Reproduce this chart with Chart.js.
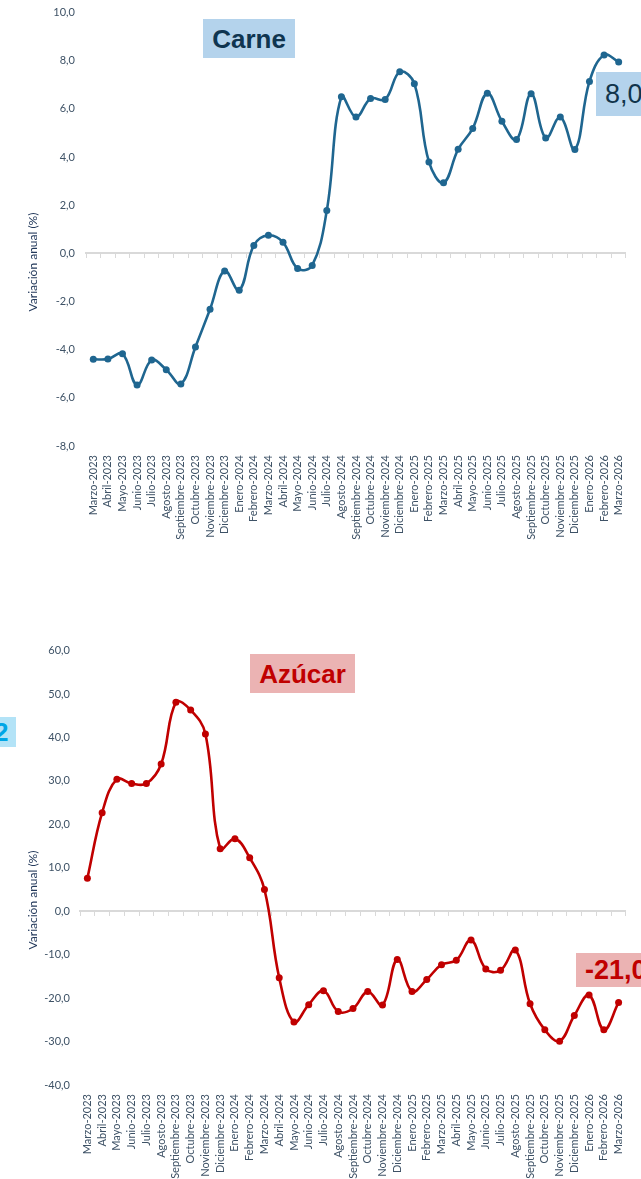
<!DOCTYPE html>
<html>
<head>
<meta charset="utf-8">
<script src="https://cdn.jsdelivr.net/npm/chart.js@4/dist/chart.umd.min.js"></script>
<style>
  html, body { margin: 0; padding: 0; background: #fff; }
  body { width: 641px; height: 1179px; position: relative; overflow: hidden; }
  .box { position: absolute; }
  .tag { position: absolute; font-family: 'Liberation Sans', Arial, sans-serif; font-weight: bold; font-size: 26px; white-space: nowrap; overflow: hidden; }
  .ytitle { position: absolute; width: 200px; height: 16px; line-height: 16px; text-align: center;
            font-family: Lato, sans-serif; font-size: 12px; color: #23395B; transform: rotate(-90deg); }
</style>
</head>
<body>
<div class="box" style="left:0;top:-5px;width:641px;height:625px;"><canvas id="carneChart"></canvas></div>
<div class="box" style="left:0;top:634px;width:641px;height:545px;"><canvas id="azucarChart"></canvas></div>

<div class="ytitle" style="left:-67px;top:254px;">Variación anual (%)</div>
<div class="ytitle" style="left:-67px;top:892px;">Variación anual (%)</div>

<div class="tag" style="left:203px;top:19px;width:92px;height:39px;line-height:40px;text-align:center;background:#B4D3EC;color:#0F3550;">Carne</div>
<div class="tag" style="left:596px;top:72px;width:60px;height:44px;line-height:45px;padding-left:9px;background:#B4D3EC;color:#10344B;font-weight:normal;font-size:27px;">8,0</div>
<div class="tag" style="left:250px;top:654px;width:105px;height:39px;line-height:40px;text-align:center;background:#EBB3B3;color:#C00000;">Azúcar</div>
<div class="tag" style="left:576px;top:953px;width:70px;height:34px;line-height:35px;padding-left:9px;background:#EBB3B3;color:#C00000;font-size:27px;">-21,0</div>
<div class="tag" style="left:0;top:717px;width:16px;height:30px;line-height:31px;background:#B3E3F7;color:#00A6E6;"><span style="position:relative;left:-6px;">2</span></div>

<script>
const months = [
  'Marzo-2023', 'Abril-2023', 'Mayo-2023', 'Junio-2023', 'Julio-2023', 'Agosto-2023',
  'Septiembre-2023', 'Octubre-2023', 'Noviembre-2023', 'Diciembre-2023', 'Enero-2024',
  'Febrero-2024', 'Marzo-2024', 'Abril-2024', 'Mayo-2024', 'Junio-2024', 'Julio-2024',
  'Agosto-2024', 'Septiembre-2024', 'Octubre-2024', 'Noviembre-2024', 'Diciembre-2024',
  'Enero-2025', 'Febrero-2025', 'Marzo-2025', 'Abril-2025', 'Mayo-2025', 'Junio-2025',
  'Julio-2025', 'Agosto-2025', 'Septiembre-2025', 'Octubre-2025', 'Noviembre-2025',
  'Diciembre-2025', 'Enero-2026', 'Febrero-2026', 'Marzo-2026'
];

const carne = [
  -4.40, -4.39, -4.17, -5.47, -4.43, -4.83, -5.42, -3.89, -2.32, -0.73, -1.53, 0.33, 0.75,
  0.46, -0.63, -0.50, 1.78, 6.50, 5.66, 6.43, 6.39, 7.54, 7.05, 3.80, 2.93, 4.32, 5.19,
  6.65, 5.49, 4.73, 6.63, 4.79, 5.66, 4.31, 7.14, 8.24, 7.95
];

const azucar = [
  7.6, 22.7, 30.4, 29.4, 29.4, 33.9, 48.1, 46.3, 40.8, 14.4, 16.7, 12.3, 5.0,
  -15.3, -25.5, -21.5, -18.3, -23.1, -22.4, -18.5, -21.6, -11.1, -18.5, -15.7, -12.3,
  -11.3, -6.6, -13.3, -13.6, -8.9, -21.3, -27.3, -29.9, -24.0, -19.3, -27.3, -21.0
];

// y tick ranges: [min, max, step]
const carneTicks = [-8, 10, 2];
const azucarTicks = [-40, 60, 10];

Chart.defaults.font.family = 'Lato';

function buildChart(id, values, ticks, color, box) {
    const ctx = document.getElementById(id).getContext('2d');
    return new Chart(ctx, {
        type: 'line',
        data: {
            labels: months,
            datasets: [{
                data: values,
                xAxisID: 'x',
                borderColor: color,
                backgroundColor: color,
                borderWidth: 2.6,
                pointRadius: 3.5,
                pointBorderWidth: 0,
                pointBackgroundColor: color,
                tension: 0.4
            }]
        },
        options: {
            responsive: true,
            maintainAspectRatio: false,
            animation: false,
            layout: { padding: { top: box.top, right: box.right, left: 0, bottom: 0 } },
            plugins: { legend: { display: false }, tooltip: { enabled: false } },
            scales: {
                y: {
                    min: ticks[0], max: ticks[1],
                    afterFit: s => { s.width = box.left; },
                    grid: { display: false, drawTicks: false },
                    border: { display: false },
                    ticks: {
                        stepSize: ticks[2],
                        padding: box.tickPad,
                        color: '#3E5266',
                        font: { size: 11 },
                        callback: v => v.toFixed(1).replace('.', ',')
                    }
                },
                x: {
                    type: 'category',
                    position: { y: 0 },
                    offset: true,
                    ticks: { display: false },
                    grid: { offset: true, drawOnChartArea: false, drawTicks: true, tickLength: 4, color: '#D9D9D9', lineWidth: 1 },
                    border: { color: '#D9D9D9', width: 2 }
                },
                x2: {
                    type: 'category',
                    labels: months,
                    position: 'bottom',
                    offset: true,
                    afterFit: s => { s.height = box.bottom; },
                    grid: { display: false, drawTicks: false },
                    border: { display: false },
                    ticks: {
                        autoSkip: false,
                        minRotation: 90, maxRotation: 90,
                        padding: 9,
                        color: '#3E5266',
                        font: { size: 11 }
                    }
                }
            }
        }
    });
}

buildChart('carneChart', carne, carneTicks, '#1F6690', { top: 6, right: 10, left: 86, bottom: 174, tickPad: 11 });
buildChart('azucarChart', azucar, azucarTicks, '#C00000', { top: 3, right: 15, left: 80, bottom: 94, tickPad: 10 });
</script>
</body>
</html>
